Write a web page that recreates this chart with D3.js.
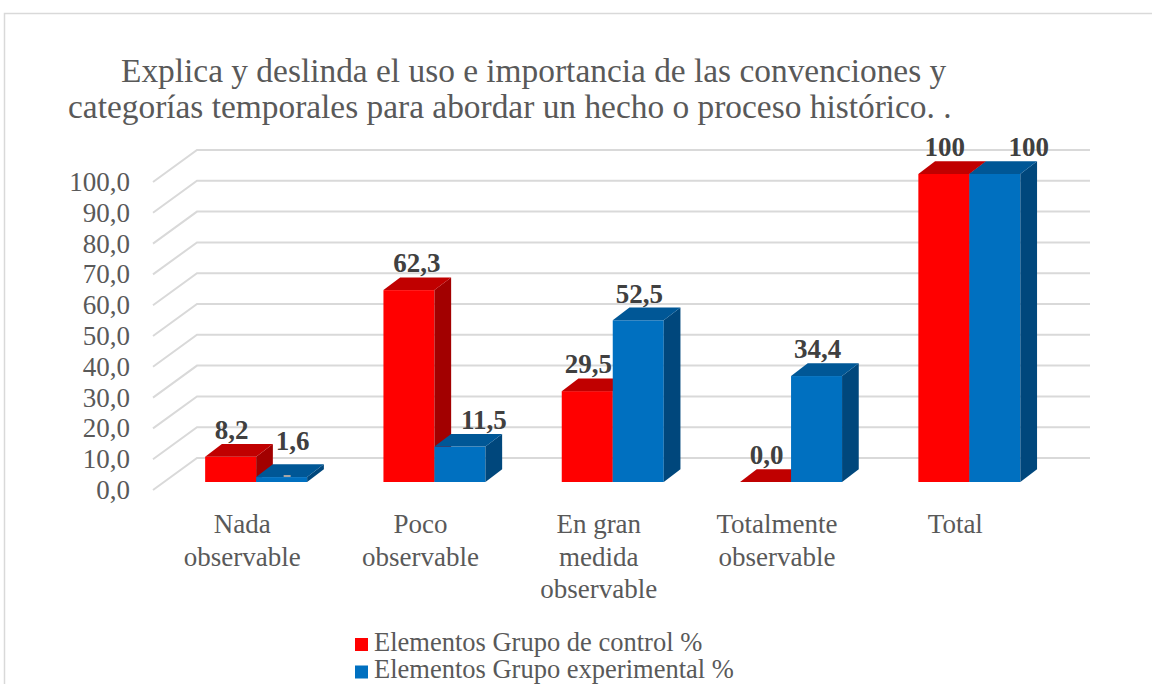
<!DOCTYPE html>
<html>
<head>
<meta charset="utf-8">
<script src="https://cdn.jsdelivr.net/npm/d3@7"></script>
<style>
  html, body { margin: 0; padding: 0; background: #fff; }
  text { font-family: "Liberation Serif", "Times New Roman", serif; }
</style>
</head>
<body>
<div id="container"></div>
<script>
// data
const categories = ["Nada observable", "Poco observable", "En gran medida observable", "Totalmente observable", "Total"];
const categoryLines = [["Nada", "observable"], ["Poco", "observable"], ["En gran", "medida", "observable"], ["Totalmente", "observable"], ["Total"]];
const seriesNames = ["Elementos Grupo de control %", "Elementos  Grupo experimental %"];
const control = [8.2, 62.3, 29.5, 0.0, 100];
const experimental = [1.6, 11.5, 52.5, 34.4, 100];
const controlLabels = ["8,2", "62,3", "29,5", "0,0", "100"];
const experimentalLabels = ["1,6", "11,5", "52,5", "34,4", "100"];
const yTicks = [0, 10, 20, 30, 40, 50, 60, 70, 80, 90, 100];
const titleLines = ["Explica y deslinda el uso e importancia de las convenciones y", "categorías temporales para abordar un hecho o proceso histórico. ."];

const width = 1152;
const height = 684;

// 3D-ish geometry
const floorY = 490;      // front edge of the floor (value 0)
const wallDx = 44;       // depth offset of the back wall
const wallDy = -32;
const barBaseY = 482;    // front base of the bars
const barW = 51;
const barDx = 16.7;      // bar depth
const barDy = -12.7;
const barShift = 14;

const colors = [
  { front: "#FF0000", top: "#C00000", side: "#A20000" },
  { front: "#0070C0", top: "#005796", side: "#00477C" }
];

// labels that Excel moved a bit
const labelNudge = { "0-1": [7, 0], "1-0": [10, -9], "1-1": [23, 0], "1-4": [33, 0] };

const fmt = d3.formatLocale({ decimal: ",", thousands: ".", grouping: [3], currency: ["", ""] }).format(".1f");

const svg = d3.select("#container").append("svg")
  .attr("width", width)
  .attr("height", height);

// chart frame
svg.append("rect")
  .attr("x", 4.5).attr("y", 13.5)
  .attr("width", width + 20).attr("height", height + 20)
  .attr("fill", "none")
  .attr("stroke", "#d9d9d9")
  .attr("stroke-width", 1.5);

const x = d3.scaleBand()
  .domain(categories)
  .range([153, 1044.5]);

const y = d3.scaleLinear()
  .domain([0, 100])
  .range([0, 308]);

// gridlines: diagonal on the side wall, then flat along the back wall
const grid = svg.append("g");
yTicks.forEach(t => {
  const fy = floorY - y(t);
  const by = floorY + wallDy - y(t);
  grid.append("polyline")
    .attr("points", `153,${fy} ${153 + wallDx},${by} 1090,${by}`)
    .attr("fill", "none")
    .attr("stroke", "#d9d9d9")
    .attr("stroke-width", 2);
});

// y labels
svg.append("g").selectAll("text")
  .data(yTicks)
  .join("text")
  .attr("x", 130)
  .attr("y", d => floorY - y(d) + 9)
  .attr("text-anchor", "end")
  .attr("font-size", 27)
  .attr("fill", "#595959")
  .text(d => fmt(d));

// bars
const series = [control, experimental];
const seriesLabels = [controlLabels, experimentalLabels];
const bars = svg.append("g");

categories.forEach((cat, i) => {
  series.forEach((vals, s) => {
    const v = vals[i];
    const xl = x(cat) + x.bandwidth() / 2 + barShift - barW + s * barW;
    const yt = barBaseY - y(v);
    const yb = barBaseY;
    const c = colors[s];
    const g = bars.append("g");
    if (v > 0) {
      g.append("rect")
        .attr("x", xl).attr("y", yt)
        .attr("width", barW).attr("height", yb - yt)
        .attr("fill", c.front);
      g.append("polygon")
        .attr("points", [[xl + barW, yt], [xl + barW, yb], [xl + barW + barDx, yb + barDy], [xl + barW + barDx, yt + barDy]].join(" "))
        .attr("fill", c.side);
    }
    g.append("polygon")
      .attr("points", [[xl, yt], [xl + barW, yt], [xl + barW + barDx, yt + barDy], [xl + barDx, yt + barDy]].join(" "))
      .attr("fill", c.top);
  });
});

// value labels
const labels = svg.append("g");
categories.forEach((cat, i) => {
  series.forEach((vals, s) => {
    const v = vals[i];
    const xl = x(cat) + x.bandwidth() / 2 + barShift - barW + s * barW;
    const nudge = labelNudge[`${s}-${i}`] || [0, 0];
    // small leader mark when a label was pulled away from a very short bar
    if (nudge[1] < 0) {
      labels.append("line")
        .attr("x1", xl + barW / 2 + 2).attr("x2", xl + barW / 2 + 9)
        .attr("y1", barBaseY - 6).attr("y2", barBaseY - 6)
        .attr("stroke", "#a6a6a6")
        .attr("stroke-width", 2);
    }
    labels.append("text")
      .attr("x", xl + barW / 2 + 1 + nudge[0])
      .attr("y", barBaseY - y(v) + barDy - 5 + nudge[1])
      .attr("text-anchor", "middle")
      .attr("font-size", 27)
      .attr("font-weight", "bold")
      .attr("fill", "#404040")
      .text(seriesLabels[s][i]);
  });
});

// category labels
const catG = svg.append("g");
categories.forEach((cat, i) => {
  const t = catG.append("text")
    .attr("x", x(cat) + x.bandwidth() / 2)
    .attr("y", 533)
    .attr("text-anchor", "middle")
    .attr("font-size", 27)
    .attr("fill", "#595959");
  categoryLines[i].forEach((line, k) => {
    t.append("tspan")
      .attr("x", x(cat) + x.bandwidth() / 2)
      .attr("dy", k === 0 ? 0 : 32.5)
      .text(line);
  });
});

// title
svg.append("text")
  .attr("x", 121).attr("y", 82)
  .attr("font-size", 33.4)
  .attr("fill", "#595959")
  .text(titleLines[0]);
svg.append("text")
  .attr("x", 68).attr("y", 118)
  .attr("font-size", 33.4)
  .attr("fill", "#595959")
  .text(titleLines[1]);

// legend
const legend = svg.append("g");
seriesNames.forEach((name, s) => {
  legend.append("rect")
    .attr("x", 355).attr("y", 638 + s * 27.5)
    .attr("width", 13).attr("height", 13)
    .attr("fill", colors[s].front);
  legend.append("text")
    .attr("x", 374).attr("y", 650.5 + s * 27.5)
    .attr("font-size", 26.5)
    .attr("fill", "#595959")
    .text(name);
});
</script>
</body>
</html>
